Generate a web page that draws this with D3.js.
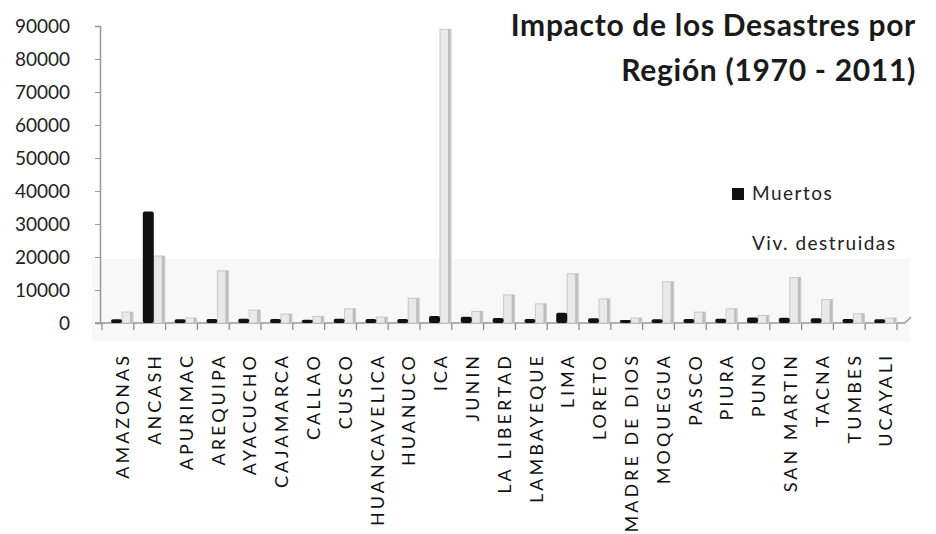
<!DOCTYPE html>
<html>
<head>
<meta charset="utf-8">
<script src="https://cdn.jsdelivr.net/npm/d3@7"></script>
<style>
  html, body { margin: 0; padding: 0; background: #fff; }
  #chart { width: 936px; height: 534px; }
</style>
</head>
<body>
<div id="chart"></div>
<script>
// regiones y valores (1970 - 2011)
const regiones = ["AMAZONAS", "ANCASH", "APURIMAC", "AREQUIPA", "AYACUCHO", "CAJAMARCA",
  "CALLAO", "CUSCO", "HUANCAVELICA", "HUANUCO", "ICA", "JUNIN", "LA LIBERTAD",
  "LAMBAYEQUE", "LIMA", "LORETO", "MADRE DE DIOS", "MOQUEGUA", "PASCO", "PIURA",
  "PUNO", "SAN MARTIN", "TACNA", "TUMBES", "UCAYALI"];
const muertos = [800, 33500, 800, 900, 1000, 900, 700, 1000, 900, 900, 1800, 1600, 1200,
  900, 2800, 1100, 600, 800, 900, 1000, 1400, 1300, 1100, 900, 800];
const vivDestruidas = [3300, 20300, 1500, 15800, 3900, 2700, 2000, 4300, 1800, 7500, 89000,
  3500, 8500, 5800, 14900, 7300, 1500, 12500, 3300, 4300, 2300, 13800, 7100, 2800, 1500];
const yTicks = [0, 10000, 20000, 30000, 40000, 50000, 60000, 70000, 80000, 90000];
const series = ["Muertos", "Viv. destruidas"];
const titulo = ["Impacto de los Desastres por", "Región (1970 - 2011)"];

(function () {
  const container = d3.select('#chart');
  const width = 936, height = 534;
  const svg = container.append('svg')
    .attr('width', width)
    .attr('height', height)
    .style('font-family', 'Lato, "Open Sans", sans-serif');

  const x0 = 102, x1 = 897, yBase = 323;

  const x = d3.scaleBand().domain(regiones).range([x0, x1]).padding(0);
  const xs = d3.scaleBand().domain(series).range([9, 31]).padding(0);
  const y = d3.scaleLinear().domain([0, 90000]).range([yBase, 26]);

  // faint wall shading near the floor
  svg.append('rect')
    .attr('x', 92).attr('y', y(19500))
    .attr('width', 818).attr('height', 342 - y(19500))
    .attr('fill', '#f8f8f8');

  // y axis
  const yAxis = svg.append('g')
    .attr('transform', 'translate(100,0)')
    .call(d3.axisLeft(y).tickValues(yTicks).tickSize(5).tickFormat(d3.format('d')));
  yAxis.select('.domain').attr('stroke', '#999').attr('stroke-width', 1.5);
  yAxis.selectAll('.tick line').attr('stroke', '#999');
  yAxis.selectAll('.tick text')
    .attr('x', -30)
    .attr('fill', '#222')
    .style('font-size', '19px')
    .style('font-family', 'Lato, sans-serif');

  // x axis line and boundary ticks
  svg.append('line')
    .attr('x1', 95).attr('x2', 905)
    .attr('y1', yBase).attr('y2', yBase)
    .attr('stroke', '#999').attr('stroke-width', 1.5);
  svg.append('line')
    .attr('x1', 905).attr('x2', 911)
    .attr('y1', yBase).attr('y2', yBase - 6)
    .attr('stroke', '#999').attr('stroke-width', 1.5);
  svg.append('g').selectAll('line')
    .data(d3.range(regiones.length + 1))
    .join('line')
    .attr('x1', i => x0 + i * x.step())
    .attr('x2', i => x0 + i * x.step())
    .attr('y1', yBase).attr('y2', yBase + 7)
    .attr('stroke', '#888').attr('stroke-width', 1.2);

  // bars
  const rows = regiones.map((r, i) => ({ region: r, vals: [muertos[i], vivDestruidas[i]] }));
  const g = svg.append('g');
  const groups = g.selectAll('g.region')
    .data(rows)
    .join('g')
    .attr('class', 'region')
    .attr('transform', d => `translate(${x(d.region)},0)`);

  // viv. destruidas (drawn first so black bar sits in front)
  groups.append('rect')
    .attr('x', xs('Viv. destruidas'))
    .attr('y', d => y(d.vals[1]))
    .attr('width', xs.bandwidth())
    .attr('height', d => yBase - y(d.vals[1]))
    .attr('fill', '#e9e9e9')
    .attr('stroke', '#c8c8c8')
    .attr('stroke-width', 1);
  groups.append('rect')
    .attr('x', xs('Viv. destruidas') + xs.bandwidth() - 3)
    .attr('y', d => y(d.vals[1]))
    .attr('width', 2.5)
    .attr('height', d => yBase - y(d.vals[1]))
    .attr('fill', '#bdbdbd');

  groups.append('rect')
    .attr('x', xs('Muertos'))
    .attr('y', d => y(d.vals[0]) - 1)
    .attr('width', xs.bandwidth())
    .attr('height', d => yBase - y(d.vals[0]) + 1)
    .attr('rx', 2)
    .attr('fill', '#111');

  // category labels
  svg.append('g').selectAll('text')
    .data(regiones)
    .join('text')
    .attr('transform', d => `translate(${x(d) + x.bandwidth() / 2 + 5},353) rotate(-90)`)
    .attr('text-anchor', 'end')
    .attr('dy', '0.35em')
    .attr('fill', '#111')
    .style('font-size', '18px')
    .style('letter-spacing', '3px')
    .text(d => d);

  // title
  svg.append('g').selectAll('text')
    .data(titulo)
    .join('text')
    .attr('x', 916)
    .attr('y', (d, i) => 36 + i * 45)
    .attr('text-anchor', 'end')
    .attr('fill', '#1a1a1a')
    .style('font-size', '30px')
    .style('letter-spacing', '0.7px')
    .style('font-weight', 'bold')
    .text(d => d);

  // legend
  svg.append('rect')
    .attr('x', 732).attr('y', 188)
    .attr('width', 12).attr('height', 12)
    .attr('fill', '#111');
  svg.append('g').selectAll('text')
    .data(series)
    .join('text')
    .attr('x', 752)
    .attr('y', (d, i) => 200 + i * 50)
    .attr('fill', '#222')
    .style('font-size', '19px')
    .style('letter-spacing', '1.5px')
    .text(d => d);
})();
</script>
</body>
</html>
